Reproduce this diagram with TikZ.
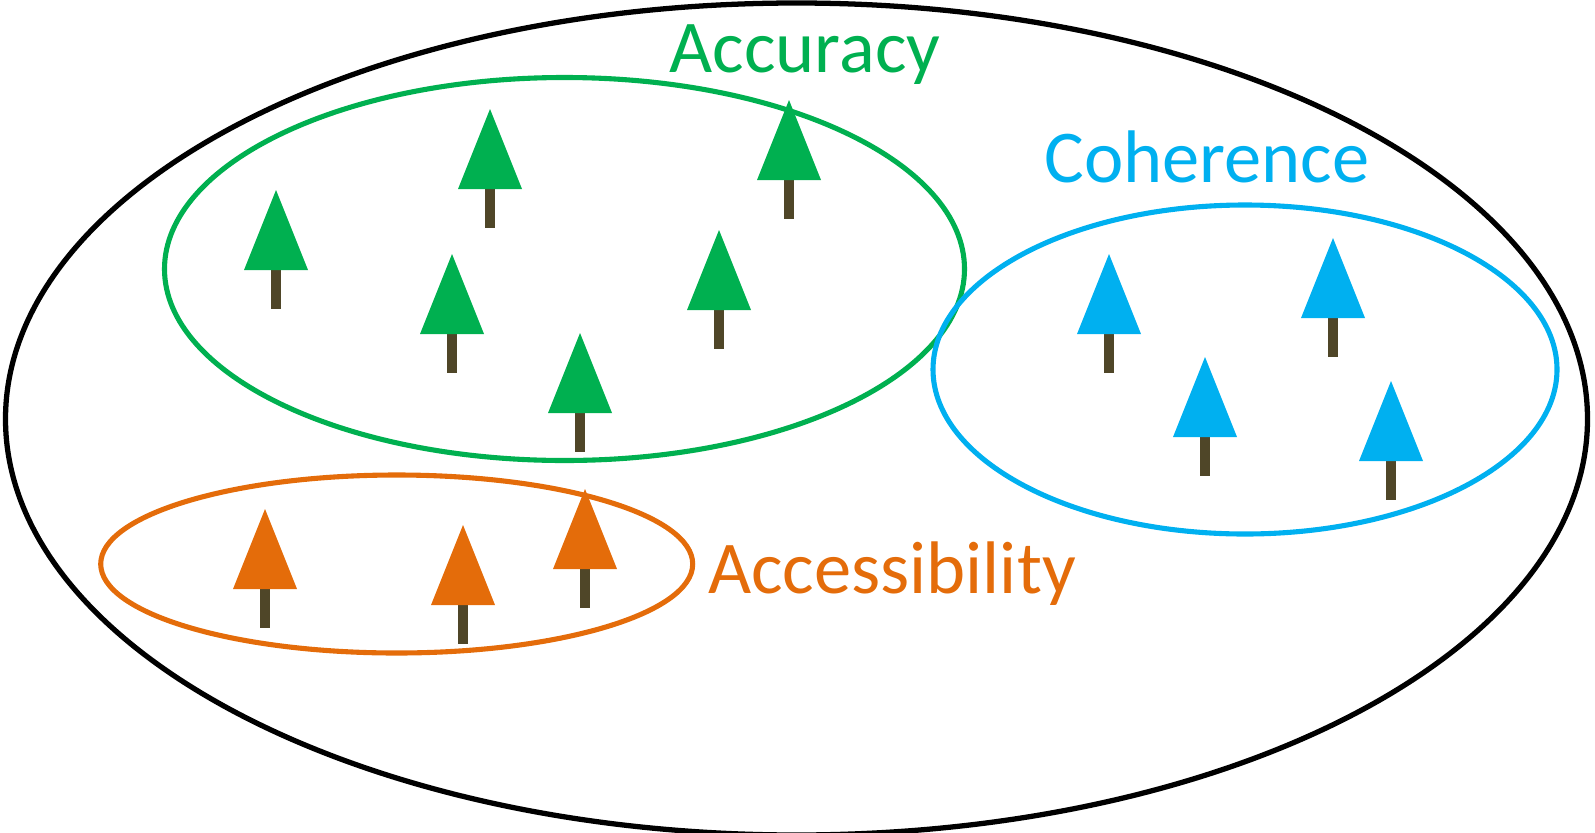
\documentclass[tikz,border=0pt]{standalone}
\usepackage{fontspec}
\setmainfont{Carlito}
\definecolor{accgreen}{RGB}{0,176,80}
\definecolor{cohblue}{RGB}{0,176,240}
\definecolor{accorange}{RGB}{228,108,10}
\definecolor{trunkbrown}{RGB}{79,70,40}
\begin{document}
\begin{tikzpicture}[x=0.02cm, y=-0.02cm]
    \tikzstyle{setline}=[line width=2.9pt]
    \tikzstyle{setlabel}=[inner sep=0pt,font=\fontsize{42.4}{42.4}\selectfont]
    \useasboundingbox (0,0) rectangle (1595,832);

    % the sets
    \draw[line width=3pt,black] (796.5,419) ellipse [x radius=791, y radius=416];
    \draw[setline,accgreen] (564.5,269) ellipse [x radius=400, y radius=191.5];
    \draw[setline,cohblue] (1245,369.5) ellipse [x radius=312, y radius=164.5];
    \draw[setline,accorange] (396.7,564) ellipse [x radius=296, y radius=89];

    % the trees
    \foreach \c/\x/\y in {accgreen/490/109, accgreen/789/100, accgreen/276/190,
      accgreen/452/254, accgreen/719/230, accgreen/580/333,
      cohblue/1109/254, cohblue/1333/238, cohblue/1205/357, cohblue/1391/381,
      accorange/265/509, accorange/463/525, accorange/585/489}
    {
      \fill[trunkbrown] (\x-5,\y+80) rectangle (\x+5,\y+119);
      \fill[\c] (\x,\y) -- (\x+32,\y+80) -- (\x-32,\y+80) -- cycle;
    }

    % the labels
    \node[setlabel,accgreen] (accuracy) at (805,55) {Accuracy};
    \node[setlabel,cohblue] (coherence) at (1207,157) {Coherence};
    \node[setlabel,accorange] (accessibility) at (892,574) {Accessibility};
\end{tikzpicture}
\end{document}
